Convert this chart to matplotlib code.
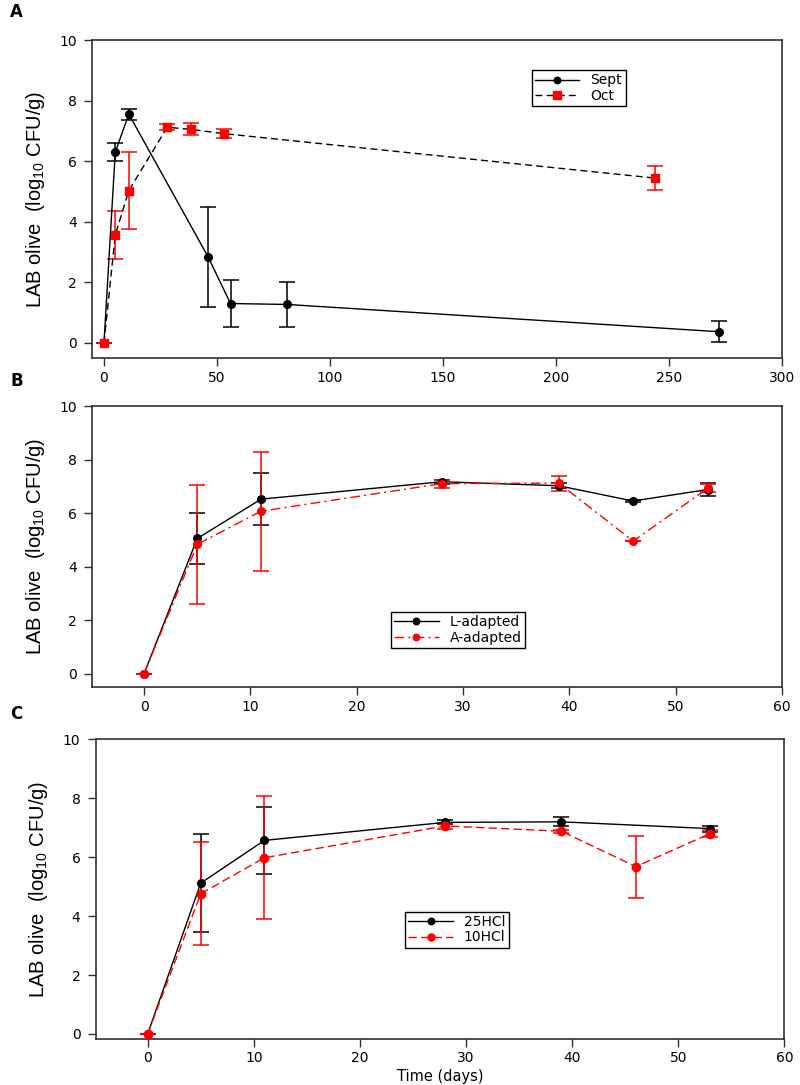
import matplotlib
matplotlib.use('Agg')
import matplotlib.pyplot as plt

# Panel A: olives harvested in September / October
a_sept_day = [0, 5, 11, 46, 56, 81, 272]
a_sept_lab = [0.0, 6.3, 7.55, 2.85, 1.3, 1.27, 0.37]
a_sept_err = [0.0, 0.3, 0.18, 1.65, 0.78, 0.75, 0.35]
a_oct_day = [0, 5, 11, 28, 38.5, 53, 244]
a_oct_lab = [0.0, 3.57, 5.03, 7.12, 7.05, 6.91, 5.44]
a_oct_err = [0.0, 0.8, 1.27, 0.1, 0.2, 0.15, 0.39]

# Panel B: L-adapted / A-adapted
b_day = [0, 5, 11, 28, 39, 46, 53]
b_l_lab = [0.0, 5.05, 6.52, 7.17, 7.02, 6.45, 6.88]
b_l_err = [0.0, 0.95, 0.97, 0.08, 0.1, 0.03, 0.25]
b_a_lab = [0.0, 4.83, 6.07, 7.1, 7.12, 4.95, 6.92]
b_a_err = [0.0, 2.22, 2.22, 0.15, 0.28, 0.0, 0.15]

# Panel C: 25HCl / 10HCl
c_25_day = [0, 5, 11, 28, 39, 53]
c_25_lab = [0.0, 5.12, 6.57, 7.18, 7.2, 6.97]
c_25_err = [0.0, 1.65, 1.15, 0.07, 0.15, 0.1]
c_10_day = [0, 5, 11, 28, 39, 46, 53]
c_10_lab = [0.0, 4.76, 5.98, 7.06, 6.88, 5.68, 6.8]
c_10_err = [0.0, 1.74, 2.09, 0.1, 0.05, 1.05, 0.12]

ylab = 'LAB olive  (log$_{\\mathregular{10}}$ CFU/g)'
spine_col = '#303030'


def style_axes(ax, xlim, ylim, xticks):
    ''' Box, outward ticks and limits used by the three panels. '''
    ax.set_xlim(*xlim)
    ax.set_ylim(*ylim)
    ax.set_xticks(xticks)
    ax.set_yticks([0, 2, 4, 6, 8, 10])
    for s in ax.spines.values():
        s.set_color(spine_col)
        s.set_linewidth(1.2)
    ax.tick_params(direction='out', length=6, width=1, colors=spine_col,
                   labelcolor='black', labelsize=10, pad=3)
    ax.tick_params(axis='y', pad=5)
    ax.set_ylabel(ylab, fontsize=14.5, family='Liberation Sans', labelpad=9)


def draw_series(ax, x, y, e, lcolor, mcolor, ecolor, ls, marker, ms, label):
    ax.errorbar(x, y, yerr=e, fmt='none', ecolor=ecolor, elinewidth=1.1,
                capsize=6, capthick=1.1, zorder=2)
    ax.plot(x, y, linestyle=ls, color=lcolor, linewidth=1.0, marker=marker,
            markersize=ms, markerfacecolor=mcolor, markeredgecolor=mcolor,
            label=label, zorder=3)


def add_legend(ax, anchor):
    leg = ax.legend(loc='upper left', bbox_to_anchor=anchor, fontsize=10,
                    handlelength=3.2, handletextpad=0.8, borderpad=0.25,
                    labelspacing=0.1, fancybox=False, framealpha=1,
                    edgecolor='black', borderaxespad=0, markerscale=0.85)
    leg.get_frame().set_linewidth(1.0)


fig = plt.figure(figsize=(8, 10.85), dpi=100)

# ---- A
axA = fig.add_axes([0.115, 0.670, 0.8625, 0.2931])
draw_series(axA, a_sept_day, a_sept_lab, a_sept_err, 'black', 'black', 'black',
            '-', 'o', 5.5, 'Sept')
draw_series(axA, a_oct_day, a_oct_lab, a_oct_err, 'black', 'red', 'red',
            (0, (5, 3)), 's', 6, 'Oct')
style_axes(axA, (-5.3, 300), (-0.5, 10), [0, 50, 100, 150, 200, 250, 300])
add_legend(axA, (0.637, 0.906))

# ---- B
axB = fig.add_axes([0.115, 0.3668, 0.8625, 0.2590])
draw_series(axB, b_day, b_l_lab, b_l_err, 'black', 'black', 'black',
            '-', 'o', 5.5, 'L-adapted')
draw_series(axB, b_day, b_a_lab, b_a_err, 'red', 'red', 'red',
            (0, (7, 3, 1.5, 3)), 'o', 5.5, 'A-adapted')
style_axes(axB, (-4.9, 60), (-0.5, 10), [0, 10, 20, 30, 40, 50, 60])
add_legend(axB, (0.433, 0.268))

# ---- C
axC = fig.add_axes([0.1196, 0.0424, 0.8608, 0.2762])
draw_series(axC, c_25_day, c_25_lab, c_25_err, 'black', 'black', 'black',
            '-', 'o', 5.5, '25HCl')
draw_series(axC, c_10_day, c_10_lab, c_10_err, 'red', 'red', 'red',
            (0, (6, 3)), 'o', 6, '10HCl')
style_axes(axC, (-4.9, 60), (-0.17, 10), [0, 10, 20, 30, 40, 50, 60])
add_legend(axC, (0.449, 0.425))
fig.text(440 / 800, 1 - 1076 / 1085, 'Time (days)', fontsize=10.5,
         ha='center', va='center')

# panel letters
for letter, ypix in (('A', 12), ('B', 381), ('C', 714)):
    fig.text(10 / 800, 1 - ypix / 1085, letter, fontsize=12, fontweight='bold',
             va='center', ha='left')

fig.savefig('out.png', dpi=100)
